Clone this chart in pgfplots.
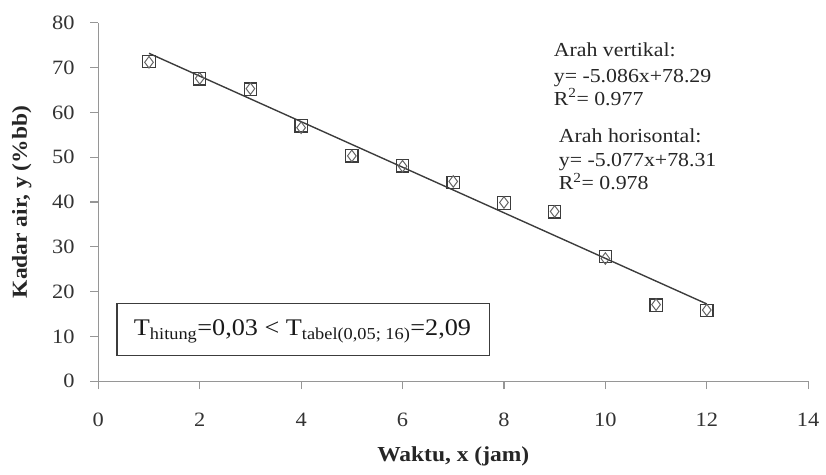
\documentclass[border=0pt]{standalone}
\usepackage{pgfplots}
\pgfplotsset{compat=1.18}
\usepackage{fontspec}
\setmainfont{Liberation Serif}[FakeStretch=1.1]

\definecolor{axgray}{RGB}{150,150,150}
\definecolor{mk}{RGB}{60,60,60}

% vertical direction (squares)
\pgfplotstableread{
x y
1 71.4
2 67.5
3 65.2
4 57.0
5 50.3
6 48.1
7 44.4
8 39.8
9 37.8
10 27.8
11 17.0
12 15.8
}\vertikal

% horizontal direction (diamonds)
\pgfplotstableread{
x y
1 71.2
2 67.6
3 65.3
4 56.6
5 50.3
6 48.0
7 44.6
8 39.9
9 37.9
10 27.4
11 17.1
12 15.9
}\horisontal

\begin{document}
\fontsize{20bp}{24bp}\selectfont
\begin{tikzpicture}[ann/.style={anchor=base west, inner sep=0pt, text=black!85,
      font=\fontsize{20bp}{24bp}\selectfont}]
\begin{axis}[
    scale only axis,
    width=715bp, height=361bp,
    xmin=0, xmax=14, ymin=0, ymax=80,
    xtick={0,2,...,14}, ytick={0,10,...,80},
    axis x line=bottom, axis y line=left,
    axis line style={-, axgray, line width=1.2bp},
    tick align=outside, major tick length=8bp,
    tick style={axgray, line width=1.2bp},
    /pgf/number format/assume math mode=true,
    ticklabel style={font=\fontsize{20.5bp}{24bp}\selectfont, text=black!80},
    xticklabel style={yshift=-17bp},
    yticklabel style={xshift=-9bp},
    xlabel={\textbf{Waktu, x (jam)}},
    ylabel={\textbf{Kadar air, y (\%bb)}},
    label style={font=\fontsize{21.5bp}{25bp}\selectfont, text=black!85},
    xlabel style={at={([yshift=-76bp]axis description cs:0.5,0)}, anchor=center},
    ylabel style={at={([xshift=-77bp]axis description cs:0,0.5)}, anchor=center},
    clip=false,
]
% trend line
\addplot[mk, line width=1.4bp] coordinates {(1,73.20) (12,17.26)};
\addplot[only marks, mark=square, mark size=6.2bp, mk, mark options={line width=1.2bp}] table {\vertikal};
\addplot[only marks, mark=diamond, mark size=5.8bp, mk!80, mark options={line width=1bp}] table {\horisontal};

\node[ann] at (axis cs:8.98,72.5) {Arah vertikal:};
\node[ann] at (axis cs:8.98,66.7) {y= -5.086x+78.29};
\node[ann] at (axis cs:8.98,61.6) {R\textsuperscript{2}= 0.977};
\node[ann] at (axis cs:9.08,53.4) {Arah horisontal:};
\node[ann] at (axis cs:9.08,47.9) {y= -5.077x+78.31};
\node[ann] at (axis cs:9.08,42.8) {R\textsuperscript{2}= 0.978};

\draw[mk, line width=1.2bp] (axis cs:0.37,17.3) rectangle (axis cs:7.71,5.8);
\node[anchor=base west, inner sep=0pt, text=black!90, font=\fontsize{24bp}{29bp}\selectfont]
  at (axis cs:0.70,10.2)
  {T\textsubscript{hitung}=0,03 < T\textsubscript{tabel(0,05; 16)}=2,09};
\end{axis}
\path (current axis.south west) ++(-99bp,-94bp) (current axis.north east) ++(12bp,23bp);
\end{tikzpicture}
\end{document}
